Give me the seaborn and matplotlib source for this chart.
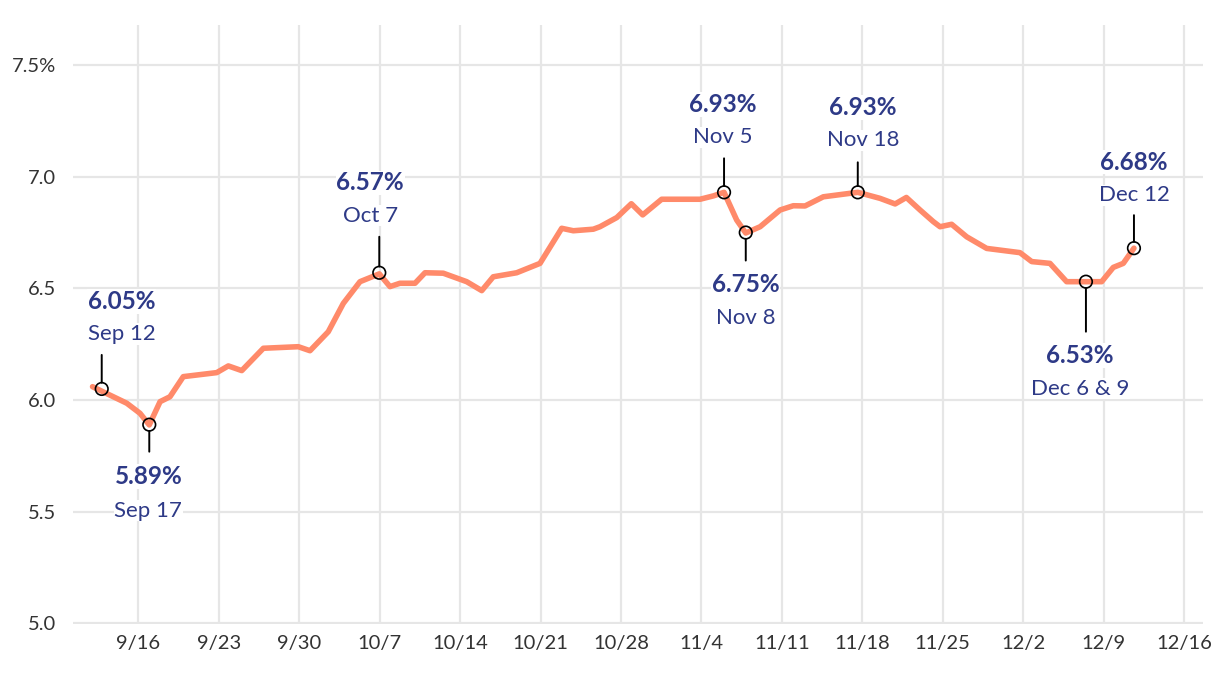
import numpy as np
import pandas as pd
import matplotlib
matplotlib.use("Agg")
import matplotlib.pyplot as plt
import seaborn as sns

# ---------------- data ----------------
start_date = "2024-09-12"
# days after Sep 12 and 30-year mortgage rate (%)
day_offsets = [0, 0.80, 2.98, 4.13, 4.94, 5.88, 6.74, 7.90, 10.81, 11.82, 12.99,
               14.87, 17.91, 18.93, 20.52, 21.83, 23.28, 24.96, 25.89, 26.76,
               28.07, 28.94, 30.53, 32.57, 33.88, 34.88, 36.92, 38.95, 40.84,
               41.85, 43.59, 44.17, 45.63, 46.90, 47.89, 49.54, 52.88, 54.04,
               54.97, 56.07, 56.86, 58.11, 59.85, 61.00, 62.02, 63.61, 66.61,
               68.55, 69.86, 70.84, 72.03, 73.18, 73.77, 74.78, 76.09, 77.83,
               80.73, 81.75, 83.34, 84.79, 86.47, 87.84, 88.85, 89.72, 90.65]
rates = [6.060, 6.040, 5.986, 5.941, 5.889, 5.993, 6.015, 6.105, 6.123, 6.153, 6.132,
         6.232, 6.239, 6.221, 6.306, 6.433, 6.530, 6.565, 6.508, 6.523,
         6.523, 6.570, 6.568, 6.530, 6.490, 6.552, 6.570, 6.612, 6.769,
         6.758, 6.765, 6.776, 6.817, 6.879, 6.829, 6.899, 6.899, 6.914,
         6.930, 6.806, 6.748, 6.776, 6.851, 6.870, 6.869, 6.910, 6.930,
         6.903, 6.878, 6.907, 6.851, 6.799, 6.776, 6.787, 6.731, 6.679,
         6.660, 6.620, 6.612, 6.530, 6.530, 6.530, 6.594, 6.612, 6.680]

# highlighted points
point_days = [0.80, 4.94, 24.96, 54.97, 56.86, 66.61, 86.47, 90.65]
point_values = [6.05, 5.89, 6.57, 6.93, 6.75, 6.93, 6.53, 6.68]
point_dates = ["Sep 12", "Sep 17", "Oct 7", "Nov 5", "Nov 8", "Nov 18", "Dec 6 & 9", "Dec 12"]

x_tick_dates = ["2024-09-16", "2024-09-23", "2024-09-30", "2024-10-07", "2024-10-14",
                "2024-10-21", "2024-10-28", "2024-11-04", "2024-11-11", "2024-11-18",
                "2024-11-25", "2024-12-02", "2024-12-09", "2024-12-16"]
x_tick_labels = ["9/16", "9/23", "9/30", "10/7", "10/14", "10/21", "10/28",
                 "11/4", "11/11", "11/18", "11/25", "12/2", "12/9", "12/16"]
y_ticks = [5.0, 5.5, 6.0, 6.5, 7.0, 7.5]
y_tick_labels = ["5.0", "5.5", "6.0", "6.5", "7.0", "7.5%"]

# ---------------- layout (pixel offsets for labels) ----------------
# (dx, value-baseline dy, date-baseline dy, stem end dy)
label_layout = [(20, 80, 49, 34), (-1, -59.5, -92, -27), (-9, 82.5, 51, 36),
                (-1, 80.5, 49, 34), (0, -59.5, -91, -28), (5, 77.5, 46, 30),
                (-6, -81.5, -113, -50), (0, 78.5, 47, 33)]

LINE_COLOR = "#FF8A6A"
TEXT_COLOR = "#2E3A87"
GRID_COLOR = "#E6E6E6"

sns.set_theme(style="whitegrid")
plt.rcParams["font.family"] = ["Lato", "DejaVu Sans"]

base = pd.Timestamp(start_date)
df = pd.DataFrame({"date": base + pd.to_timedelta(day_offsets, unit="D"),
                   "rate": rates})
pts = pd.DataFrame({"date": base + pd.to_timedelta(point_days, unit="D"),
                    "rate": point_values})

fig = plt.figure(figsize=(12.2, 6.74), dpi=100)
ax = fig.add_axes([73 / 1220, 1 - 623.5 / 674, (1203 - 73) / 1220, (623.5 - 25) / 674])

sns.lineplot(data=df, x="date", y="rate", ax=ax, color=LINE_COLOR, linewidth=4.0,
             solid_capstyle="round", solid_joinstyle="round", zorder=3)
ax.scatter(pts["date"], pts["rate"], s=82, facecolors="none", edgecolors="black",
           linewidths=1.2, zorder=5)

for (d, v, lbl, lay) in zip(pts["date"], point_values, point_dates, label_layout):
    dx, dyv, dyd, stem = lay
    # stem from the marker edge
    ax.annotate("", xy=(d, v), xytext=(0, stem), textcoords="offset pixels",
                arrowprops=dict(arrowstyle="-", color="black", lw=1.4,
                                shrinkA=0, shrinkB=4.5), zorder=4)
    ax.annotate(f"{v:.2f}%", xy=(d, v), xytext=(dx, dyv), textcoords="offset pixels",
                ha="center", va="baseline", fontsize=17.5, fontweight="bold",
                color=TEXT_COLOR, zorder=6,
                bbox=dict(facecolor="white", edgecolor="none", pad=0.5))
    ax.annotate(lbl, xy=(d, v), xytext=(dx, dyd), textcoords="offset pixels",
                ha="center", va="baseline", fontsize=16, color=TEXT_COLOR, zorder=6,
                bbox=dict(facecolor="white", edgecolor="none", pad=0.5))

ax.set_xlim(base + pd.Timedelta(days=-1.70), base + pd.Timedelta(days=96.66))
ax.set_ylim(5.0, 7.679)
ax.set_xticks(pd.to_datetime(x_tick_dates))
ax.set_xticklabels(x_tick_labels)
ax.set_yticks(y_ticks)
ax.set_yticklabels(y_tick_labels)
ax.set_xlabel("")
ax.set_ylabel("")
ax.grid(True, color=GRID_COLOR, linewidth=1.6)
for s in ax.spines.values():
    s.set_visible(False)
ax.tick_params(axis="both", length=0, labelsize=14.5, labelcolor="#333333")
ax.tick_params(axis="x", pad=8)
ax.tick_params(axis="y", pad=12)

fig.savefig("out.png", dpi=100)
